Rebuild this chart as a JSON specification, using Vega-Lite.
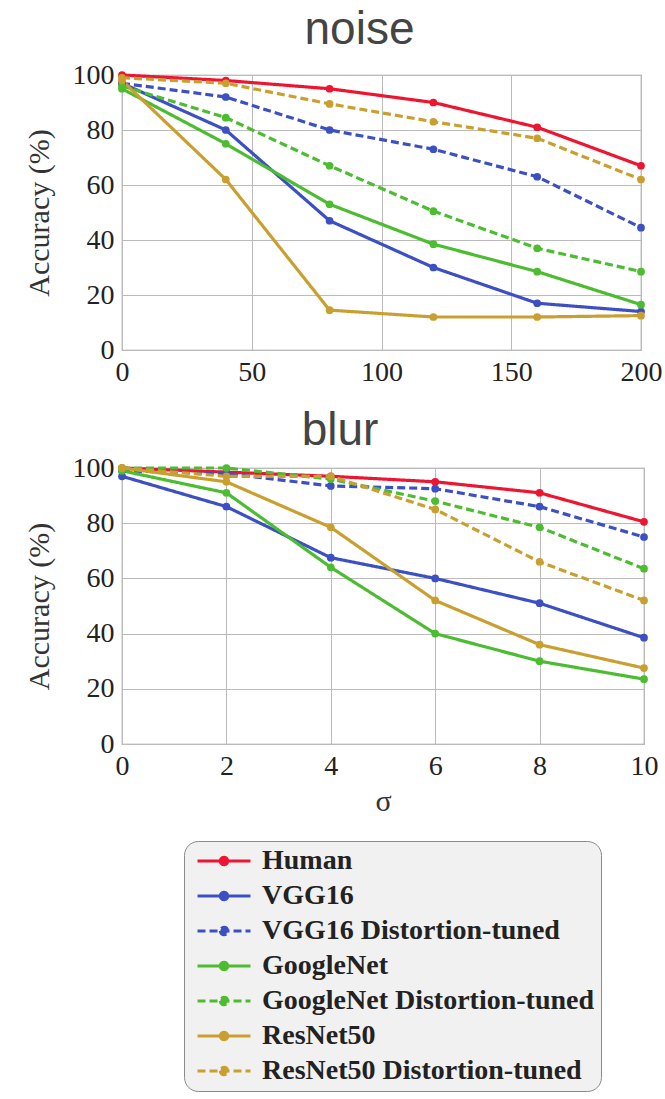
{
  "$schema": "https://vega.github.io/schema/vega-lite/v6.json",
  "padding": {"left": 23, "top": 6, "right": 0, "bottom": 0},
  "spacing": 20,
  "datasets": {
    "acc": [
      {"dist": "noise", "x": 0, "model": "Human", "acc": 100},
      {"dist": "noise", "x": 40, "model": "Human", "acc": 98},
      {"dist": "noise", "x": 80, "model": "Human", "acc": 95},
      {"dist": "noise", "x": 120, "model": "Human", "acc": 90},
      {"dist": "noise", "x": 160, "model": "Human", "acc": 81},
      {"dist": "noise", "x": 200, "model": "Human", "acc": 67},
      {"dist": "noise", "x": 0, "model": "VGG16", "acc": 97},
      {"dist": "noise", "x": 40, "model": "VGG16", "acc": 80},
      {"dist": "noise", "x": 80, "model": "VGG16", "acc": 47},
      {"dist": "noise", "x": 120, "model": "VGG16", "acc": 30},
      {"dist": "noise", "x": 160, "model": "VGG16", "acc": 17},
      {"dist": "noise", "x": 200, "model": "VGG16", "acc": 14},
      {"dist": "noise", "x": 0, "model": "VGG16 Distortion-tuned", "acc": 97},
      {"dist": "noise", "x": 40, "model": "VGG16 Distortion-tuned", "acc": 92},
      {"dist": "noise", "x": 80, "model": "VGG16 Distortion-tuned", "acc": 80},
      {"dist": "noise", "x": 120, "model": "VGG16 Distortion-tuned", "acc": 73},
      {"dist": "noise", "x": 160, "model": "VGG16 Distortion-tuned", "acc": 63},
      {"dist": "noise", "x": 200, "model": "VGG16 Distortion-tuned", "acc": 44.5},
      {"dist": "noise", "x": 0, "model": "GoogleNet", "acc": 95},
      {"dist": "noise", "x": 40, "model": "GoogleNet", "acc": 75},
      {"dist": "noise", "x": 80, "model": "GoogleNet", "acc": 53},
      {"dist": "noise", "x": 120, "model": "GoogleNet", "acc": 38.5},
      {"dist": "noise", "x": 160, "model": "GoogleNet", "acc": 28.5},
      {"dist": "noise", "x": 200, "model": "GoogleNet", "acc": 16.5},
      {"dist": "noise", "x": 0, "model": "GoogleNet Distortion-tuned", "acc": 96},
      {"dist": "noise", "x": 40, "model": "GoogleNet Distortion-tuned", "acc": 84.5},
      {"dist": "noise", "x": 80, "model": "GoogleNet Distortion-tuned", "acc": 67},
      {"dist": "noise", "x": 120, "model": "GoogleNet Distortion-tuned", "acc": 50.5},
      {"dist": "noise", "x": 160, "model": "GoogleNet Distortion-tuned", "acc": 37},
      {"dist": "noise", "x": 200, "model": "GoogleNet Distortion-tuned", "acc": 28.5},
      {"dist": "noise", "x": 0, "model": "ResNet50", "acc": 98},
      {"dist": "noise", "x": 40, "model": "ResNet50", "acc": 62},
      {"dist": "noise", "x": 80, "model": "ResNet50", "acc": 14.5},
      {"dist": "noise", "x": 120, "model": "ResNet50", "acc": 12},
      {"dist": "noise", "x": 160, "model": "ResNet50", "acc": 12},
      {"dist": "noise", "x": 200, "model": "ResNet50", "acc": 12.5},
      {"dist": "noise", "x": 0, "model": "ResNet50 Distortion-tuned", "acc": 99},
      {"dist": "noise", "x": 40, "model": "ResNet50 Distortion-tuned", "acc": 97},
      {"dist": "noise", "x": 80, "model": "ResNet50 Distortion-tuned", "acc": 89.5},
      {"dist": "noise", "x": 120, "model": "ResNet50 Distortion-tuned", "acc": 83},
      {"dist": "noise", "x": 160, "model": "ResNet50 Distortion-tuned", "acc": 77},
      {"dist": "noise", "x": 200, "model": "ResNet50 Distortion-tuned", "acc": 62},
      {"dist": "blur", "x": 0, "model": "Human", "acc": 100},
      {"dist": "blur", "x": 2, "model": "Human", "acc": 98.5},
      {"dist": "blur", "x": 4, "model": "Human", "acc": 97},
      {"dist": "blur", "x": 6, "model": "Human", "acc": 95},
      {"dist": "blur", "x": 8, "model": "Human", "acc": 91},
      {"dist": "blur", "x": 10, "model": "Human", "acc": 80.5},
      {"dist": "blur", "x": 0, "model": "VGG16", "acc": 97},
      {"dist": "blur", "x": 2, "model": "VGG16", "acc": 86},
      {"dist": "blur", "x": 4, "model": "VGG16", "acc": 67.5},
      {"dist": "blur", "x": 6, "model": "VGG16", "acc": 60},
      {"dist": "blur", "x": 8, "model": "VGG16", "acc": 51},
      {"dist": "blur", "x": 10, "model": "VGG16", "acc": 38.5},
      {"dist": "blur", "x": 0, "model": "VGG16 Distortion-tuned", "acc": 99},
      {"dist": "blur", "x": 2, "model": "VGG16 Distortion-tuned", "acc": 98},
      {"dist": "blur", "x": 4, "model": "VGG16 Distortion-tuned", "acc": 93.5},
      {"dist": "blur", "x": 6, "model": "VGG16 Distortion-tuned", "acc": 92.5},
      {"dist": "blur", "x": 8, "model": "VGG16 Distortion-tuned", "acc": 86},
      {"dist": "blur", "x": 10, "model": "VGG16 Distortion-tuned", "acc": 75},
      {"dist": "blur", "x": 0, "model": "GoogleNet", "acc": 99},
      {"dist": "blur", "x": 2, "model": "GoogleNet", "acc": 91},
      {"dist": "blur", "x": 4, "model": "GoogleNet", "acc": 64},
      {"dist": "blur", "x": 6, "model": "GoogleNet", "acc": 40},
      {"dist": "blur", "x": 8, "model": "GoogleNet", "acc": 30},
      {"dist": "blur", "x": 10, "model": "GoogleNet", "acc": 23.5},
      {"dist": "blur", "x": 0, "model": "GoogleNet Distortion-tuned", "acc": 100},
      {"dist": "blur", "x": 2, "model": "GoogleNet Distortion-tuned", "acc": 100},
      {"dist": "blur", "x": 4, "model": "GoogleNet Distortion-tuned", "acc": 96},
      {"dist": "blur", "x": 6, "model": "GoogleNet Distortion-tuned", "acc": 88},
      {"dist": "blur", "x": 8, "model": "GoogleNet Distortion-tuned", "acc": 78.5},
      {"dist": "blur", "x": 10, "model": "GoogleNet Distortion-tuned", "acc": 63.5},
      {"dist": "blur", "x": 0, "model": "ResNet50", "acc": 100},
      {"dist": "blur", "x": 2, "model": "ResNet50", "acc": 95},
      {"dist": "blur", "x": 4, "model": "ResNet50", "acc": 78.5},
      {"dist": "blur", "x": 6, "model": "ResNet50", "acc": 52},
      {"dist": "blur", "x": 8, "model": "ResNet50", "acc": 36},
      {"dist": "blur", "x": 10, "model": "ResNet50", "acc": 27.5},
      {"dist": "blur", "x": 0, "model": "ResNet50 Distortion-tuned", "acc": 100},
      {"dist": "blur", "x": 2, "model": "ResNet50 Distortion-tuned", "acc": 97},
      {"dist": "blur", "x": 4, "model": "ResNet50 Distortion-tuned", "acc": 97},
      {"dist": "blur", "x": 6, "model": "ResNet50 Distortion-tuned", "acc": 85},
      {"dist": "blur", "x": 8, "model": "ResNet50 Distortion-tuned", "acc": 66},
      {"dist": "blur", "x": 10, "model": "ResNet50 Distortion-tuned", "acc": 52}
    ]
  },
  "vconcat": [
    {
      "data": {"name": "acc"},
      "transform": [{"filter": "datum.dist === 'noise'"}],
      "width": 519,
      "height": 275,
      "title": {"text": "noise", "dx": -22, "baseline": "alphabetic", "offset": -29},
      "mark": {"type": "line", "strokeWidth": 3.2, "point": {"filled": true, "size": 60}},
      "encoding": {
        "x": {"field": "x", "type": "quantitative", "scale": {"domain": [0, 200], "nice": false},
              "axis": {"values": [0, 50, 100, 150, 200], "title": null, "labelFlush": false}},
        "y": {"field": "acc", "type": "quantitative", "scale": {"domain": [0, 100], "nice": false},
              "axis": {"values": [0, 20, 40, 60, 80, 100], "title": "Accuracy (%)"}},
        "color": {"field": "model", "type": "nominal",
                  "scale": {"domain": ["Human", "VGG16", "VGG16 Distortion-tuned", "GoogleNet", "GoogleNet Distortion-tuned", "ResNet50", "ResNet50 Distortion-tuned"],
                            "range": ["#ee1530", "#3c50c4", "#3c50c4", "#4cbc30", "#4cbc30", "#c9a030", "#c9a030"]},
                  "legend": {"title": null, "orient": "none", "legendX": 62, "legendY": 766}},
        "strokeDash": {"field": "model", "type": "nominal",
                  "scale": {"domain": ["Human", "VGG16", "VGG16 Distortion-tuned", "GoogleNet", "GoogleNet Distortion-tuned", "ResNet50", "ResNet50 Distortion-tuned"],
                            "range": [[1, 0], [1, 0], [8, 4], [1, 0], [8, 4], [1, 0], [8, 4]]},
                  "legend": {"title": null, "orient": "none", "legendX": 62, "legendY": 766}}
      }
    },
    {
      "data": {"name": "acc"},
      "transform": [{"filter": "datum.dist === 'blur'"}],
      "width": 522,
      "height": 276,
      "title": {"text": "blur", "dx": -43, "baseline": "alphabetic", "offset": -37},
      "mark": {"type": "line", "strokeWidth": 3.2, "point": {"filled": true, "size": 60}},
      "encoding": {
        "x": {"field": "x", "type": "quantitative", "scale": {"domain": [0, 10], "nice": false},
              "axis": {"values": [0, 2, 4, 6, 8, 10], "title": "σ", "labelFlush": false, "titlePadding": 6}},
        "y": {"field": "acc", "type": "quantitative", "scale": {"domain": [0, 100], "nice": false},
              "axis": {"values": [0, 20, 40, 60, 80, 100], "title": "Accuracy (%)"}},
        "color": {"field": "model", "type": "nominal",
                  "scale": {"domain": ["Human", "VGG16", "VGG16 Distortion-tuned", "GoogleNet", "GoogleNet Distortion-tuned", "ResNet50", "ResNet50 Distortion-tuned"],
                            "range": ["#ee1530", "#3c50c4", "#3c50c4", "#4cbc30", "#4cbc30", "#c9a030", "#c9a030"]},
                  "legend": {"title": null, "orient": "none", "legendX": 62, "legendY": 766}},
        "strokeDash": {"field": "model", "type": "nominal",
                  "scale": {"domain": ["Human", "VGG16", "VGG16 Distortion-tuned", "GoogleNet", "GoogleNet Distortion-tuned", "ResNet50", "ResNet50 Distortion-tuned"],
                            "range": [[1, 0], [1, 0], [8, 4], [1, 0], [8, 4], [1, 0], [8, 4]]},
                  "legend": {"title": null, "orient": "none", "legendX": 62, "legendY": 766}}
      }
    }
  ],
  "config": {
    "background": "white",
    "view": {"stroke": "#999", "strokeWidth": 1.2},
    "axis": {"labelFont": "Liberation Serif", "labelFontSize": 28, "labelColor": "#222",
             "titleFont": "Liberation Serif", "titleFontSize": 30, "titleFontWeight": "normal", "titleColor": "#333",
             "gridColor": "#bbb", "gridWidth": 1, "domain": false, "ticks": false, "labelPadding": 8, "titlePadding": 18},
    "title": {"font": "Liberation Sans", "fontSize": 46, "fontWeight": "normal", "color": "#444"},
    "legend": {"labelFont": "Liberation Serif", "labelFontSize": 28, "labelFontWeight": "bold", "labelColor": "#222",
               "symbolType": "M-3,0H3M-0.42,0A0.42,0.42,0,1,0,0.42,0A0.42,0.42,0,1,0,-0.42,0Z",
               "symbolSize": 312, "symbolStrokeWidth": 3, "symbolOffset": 20, "labelOffset": 24, "rowPadding": 7, "padding": 6,
               "fillColor": "#f1f1f1", "strokeColor": "#8a8a8a", "cornerRadius": 14, "labelLimit": 500}
  }
}
